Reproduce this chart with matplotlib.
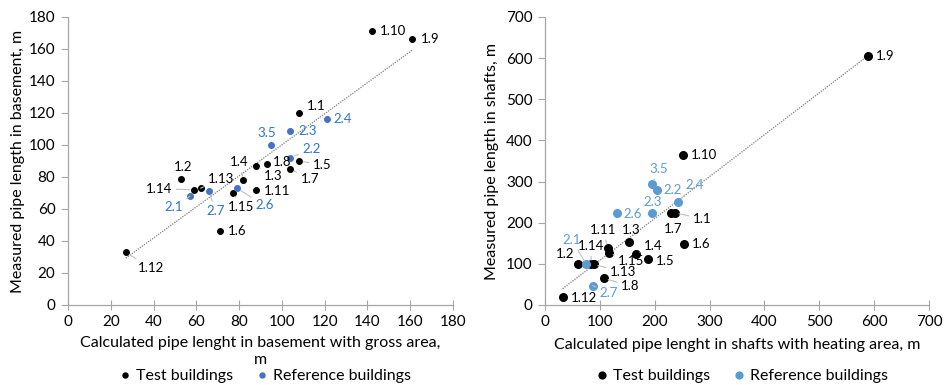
import numpy as np
import matplotlib
matplotlib.use("Agg")
import matplotlib.pyplot as plt

plt.rcParams['font.family'] = ['Lato', 'DejaVu Sans']

# ---- Basement: test buildings ----
base_test_labels = ["1.1", "1.2", "1.3", "1.4", "1.5", "1.6", "1.7", "1.8",
                    "1.9", "1.10", "1.11", "1.12", "1.13", "1.14", "1.15"]
base_test_x = [108, 53, 88, 82, 108, 71, 104, 93, 161, 142, 88, 27, 62, 59, 77]
base_test_y = [120, 79, 87, 78, 90, 46, 85, 88, 166, 171, 72, 33, 73, 72, 70]

# ---- Basement: reference buildings ----
base_ref_labels = ["2.1", "2.2", "2.3", "2.4", "2.6", "2.7", "3.5"]
base_ref_x = [57, 104, 104, 121, 79, 66, 95]
base_ref_y = [68, 92, 109, 116, 73, 71, 100]

# ---- Shafts: test buildings ----
shaft_test_labels = ["1.1", "1.2", "1.3", "1.4", "1.5", "1.6", "1.7", "1.8",
                     "1.9", "1.10", "1.11", "1.12", "1.13", "1.14", "1.15"]
shaft_test_x = [237, 60, 154, 166, 187, 254, 229, 108, 588, 251, 114, 32, 89, 84, 117]
shaft_test_y = [224, 99, 152, 124, 111, 148, 223, 65, 606, 365, 139, 20, 99, 99, 126]

# ---- Shafts: reference buildings ----
shaft_ref_labels = ["2.1", "2.2", "2.3", "2.4", "2.6", "2.7", "3.5"]
shaft_ref_x = [75, 204, 195, 243, 131, 87, 195]
shaft_ref_y = [99, 280, 224, 251, 224, 47, 294]

# label offsets in pixels (dx, dy), alignment, leader line flag
base_test_off = {
    "1.1": (8, 7, "left", True), "1.2": (2, 12, "center", False),
    "1.3": (8, -10, "left", True), "1.4": (-4, 18, "center", True),
    "1.5": (14, -4, "left", True), "1.6": (8, 0, "left", False),
    "1.7": (10, -10, "left", True), "1.8": (6, 2, "left", False),
    "1.9": (8, 0, "left", False), "1.10": (8, 0, "left", False),
    "1.11": (8, -1, "left", False), "1.12": (12, -16, "left", True),
    "1.13": (7, 9, "left", True), "1.14": (-22, 1, "right", True),
    "1.15": (8, -14, "center", True),
}
base_ref_off = {
    "2.1": (-7, -11, "right", True), "2.2": (12, 9, "left", True),
    "2.3": (8, 0, "left", False), "2.4": (7, 0, "left", False),
    "2.6": (18, -17, "left", True), "2.7": (6, -20, "center", True),
    "3.5": (-5, 12, "center", False),
}
shaft_test_off = {
    "1.1": (18, -6, "left", True), "1.2": (-13, 10, "center", False),
    "1.3": (2, 12, "center", False), "1.4": (8, 8, "left", True),
    "1.5": (8, -2, "left", False), "1.6": (8, 0, "left", False),
    "1.7": (2, -16, "center", False), "1.8": (17, -8, "left", True),
    "1.9": (8, 0, "left", False), "1.10": (8, 0, "left", False),
    "1.11": (-4, 18, "center", True), "1.12": (8, -1, "left", False),
    "1.13": (16, -8, "left", True), "1.14": (0, 18, "center", True),
    "1.15": (9, -8, "left", True),
}
shaft_ref_off = {
    "2.1": (-14, 24, "center", True), "2.2": (7, 0, "left", False),
    "2.3": (1, 11, "center", False), "2.4": (7, 17, "left", True),
    "2.6": (7, -1, "left", False), "2.7": (7, -7, "left", True),
    "3.5": (7, 15, "center", True),
}

fig = plt.figure(figsize=(9.44, 3.85), dpi=100)
ax1 = fig.add_axes([68 / 944, 1 - 305 / 385, 385 / 944, 288 / 385])
ax2 = fig.add_axes([545 / 944, 1 - 305 / 385, 384 / 944, 288 / 385])

AXIS_GREY = "#a6a6a6"


def label_points(ax, xs, ys, labels, offsets, color):
    for x, y, lab in zip(xs, ys, labels):
        dx, dy, ha, leader = offsets[lab]
        kw = {}
        if leader:
            kw["arrowprops"] = dict(arrowstyle="-", color="#bfbfbf", lw=0.8,
                                    shrinkA=1, shrinkB=3)
        ax.annotate(lab, (x, y), xytext=(dx, dy), textcoords="offset pixels",
                    ha=ha, va="center", fontsize=9.5, color=color, **kw)


def draw_panel(ax, tx, ty, tl, toff, rx, ry, rl, roff, ref_color, ref_lab_color,
               msize, lim, step):
    allx = np.array(tx + rx, dtype=float)
    ally = np.array(ty + ry, dtype=float)
    k, b = np.polyfit(allx, ally, 1)
    xx = np.array([allx.min(), allx.max()])
    ax.plot(xx, k * xx + b, ls=(0, (1, 1)), color="#7f7f7f", lw=0.9, zorder=1)
    ax.scatter(tx, ty, s=msize, color="black", zorder=3, label="Test buildings")
    ax.scatter(rx, ry, s=msize, color=ref_color, zorder=3, label="Reference buildings")
    label_points(ax, tx, ty, tl, toff, "black")
    label_points(ax, rx, ry, rl, roff, ref_lab_color)
    ax.set_xlim(0, lim)
    ax.set_ylim(0, lim)
    ax.set_xticks(np.arange(0, lim + 1, step))
    ax.set_yticks(np.arange(0, lim + 1, step))
    for s in ["top", "right"]:
        ax.spines[s].set_visible(False)
    for s in ["left", "bottom"]:
        ax.spines[s].set_color(AXIS_GREY)
        ax.spines[s].set_linewidth(0.9)
    ax.tick_params(axis="x", direction="inout", length=7, color=AXIS_GREY,
                   labelsize=11, pad=4)
    ax.tick_params(axis="y", direction="out", length=5, color=AXIS_GREY,
                   labelsize=11, pad=4)


draw_panel(ax1, base_test_x, base_test_y, base_test_labels, base_test_off,
           base_ref_x, base_ref_y, base_ref_labels, base_ref_off,
           "#4472c4", "#2e75d0", 16, 180, 20)
draw_panel(ax2, shaft_test_x, shaft_test_y, shaft_test_labels, shaft_test_off,
           shaft_ref_x, shaft_ref_y, shaft_ref_labels, shaft_ref_off,
           "#5b9bd5", "#5b9bd5", 30, 700, 100)

ax1.set_ylabel("Measured pipe length in basement, m", fontsize=11.5, labelpad=3)
ax2.set_ylabel("Measured pipe length in shafts, m", fontsize=11.5, labelpad=5)
ax1.set_xlabel("Calculated pipe lenght in basement with gross area,\nm",
               fontsize=11.5, labelpad=5, linespacing=1.25)
ax2.set_xlabel("Calculated pipe lenght in shafts with heating area, m",
               fontsize=11.5, labelpad=6)

for ax in (ax1, ax2):
    ax.legend(loc="center", bbox_to_anchor=(0.51, -0.245), ncol=2, frameon=False,
              fontsize=11.5, handletextpad=0.2, columnspacing=1.3,
              markerscale=0.9, handlelength=1.0)

fig.savefig("out.png", dpi=100)
